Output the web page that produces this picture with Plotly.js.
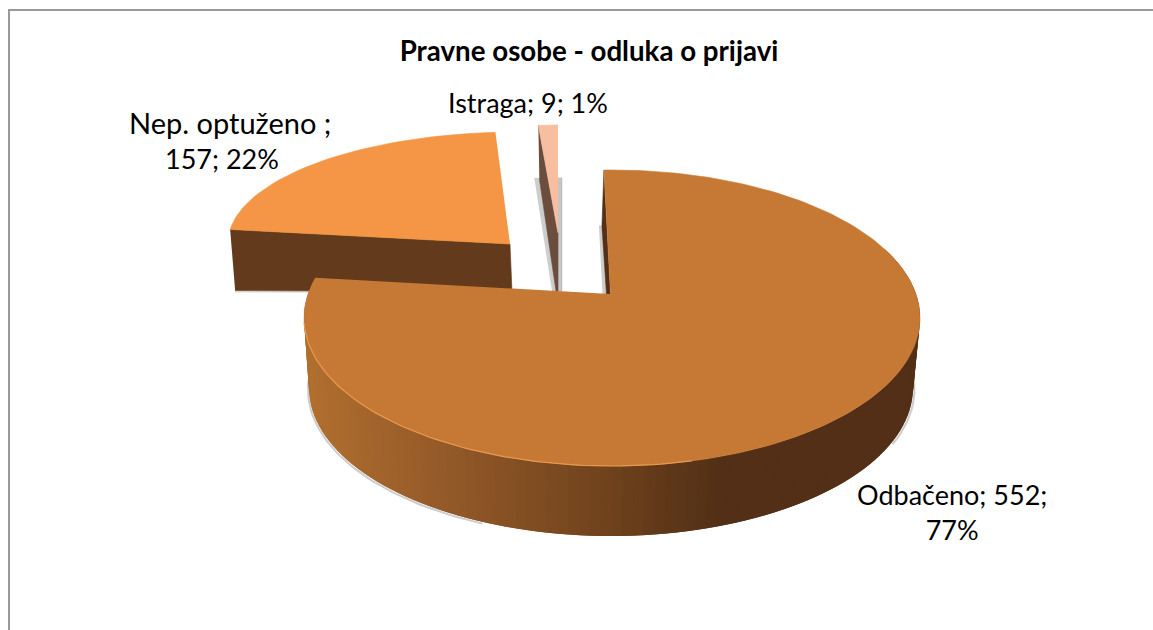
<!DOCTYPE html>
<html>
<head>
<meta charset="utf-8">
<script src="https://cdn.plot.ly/plotly-3.0.1.min.js"></script>
<style>html,body{margin:0;padding:0;background:#fff}#chart{width:1153px;height:630px}</style>
</head>
<body>
<div id="chart"></div>
<script>
const categories = ["Odbačeno", "Nep. optuženo", "Istraga"];
const values = [552, 157, 9];
const dataLabels = ["Odbačeno; 552;<br>77%", "Nep. optuženo ;", "157; 22%", "Istraga; 9; 1%"];
const chartTitle = "Pravne osobe - odluka o prijavi";

const total = values.reduce((a, b) => a + b, 0);
const sweep = values.map(v => v / total * 360);
const rad = d => d * Math.PI / 180;
const FONT = "Lato, Carlito, sans-serif";

// 3-D projection styling (ellipses in the pixel-aligned plot frame)
const mainTop = {cx: 612, cy: 318, rx: 308, ry: 148};
const mainBottom = {cx: 611, cy: 388, rx: 302, ry: 148};
const nepTop = {cx: 517, cy: 243, rx: 289, ry: 111};
const istTop = {cx: 558, cy: 233, rx: 255, ry: 108};
const mainStart = -1.5, mainStretch = 1.038;

const pt = (e, t) => [e.cx + e.rx * Math.sin(rad(t)), e.cy - e.ry * Math.cos(rad(t))];
function arc(e, a, b, n) {
  const out = [];
  for (let i = 0; i <= n; i++) out.push(pt(e, a + (b - a) * i / n));
  return out;
}
function poly(points, fill, extra) {
  return Object.assign({
    type: "scatter", mode: "lines", fill: "toself", fillcolor: fill,
    x: points.map(p => p[0]), y: points.map(p => p[1]),
    line: {color: fill, width: 0.6}, hoverinfo: "skip", showlegend: false
  }, extra || {});
}
function stroke(points, color, width) {
  return {type: "scatter", mode: "lines", x: points.map(p => p[0]), y: points.map(p => p[1]),
    line: {color: color, width: width}, hoverinfo: "skip", showlegend: false};
}
const gradientStops = [[300, [179, 113, 47]], [450, [149, 90, 41]], [620, [110, 66, 28]], [730, [82, 47, 22]], [930, [82, 47, 22]]];
function wallColor(x) {
  for (let i = 1; i < gradientStops.length; i++) {
    const [x0, c0] = gradientStops[i - 1], [x1, c1] = gradientStops[i];
    if (x <= x1) {
      const f = Math.max(0, (x - x0) / (x1 - x0));
      return "rgb(" + c0.map((c, k) => Math.round(c + (c1[k] - c) * f)).join(",") + ")";
    }
  }
  return "rgb(82,47,22)";
}

const traces = [];

// Nep. optuženo: cut wall then top face
const mainEnd = mainStart + sweep[0] * mainStretch;
const nepA = 277, nepB = nepA + sweep[1];
const nepArc = arc(nepTop, nepA, nepB, 40);
const nepApex = [510, 244];
const nepLeft = nepArc[0];
traces.push(stroke([[nepLeft[0] + 5, nepLeft[1] + 62], [nepApex[0] + 2, nepApex[1] + 48]], "rgba(120,120,120,0.3)", 2));
traces.push(poly([nepLeft, nepApex, [nepApex[0] + 2, nepApex[1] + 48], [nepLeft[0] + 5, nepLeft[1] + 61]], "#633A1B"));
traces.push(poly([nepApex].concat(nepArc), "#F49645"));

// Istraga: shadow, wall, top face
const istArc = arc(istTop, -sweep[2] * 0.98, 0, 6);
const istApex = [istTop.cx, istTop.cy];
const istL = istArc[0], istR = istArc[istArc.length - 1];
traces.push(poly([[istL[0] - 4, istL[1] + 53], [istL[0] + 1, istL[1] + 53], [istR[0] - 1, istR[1] + 166], [istR[0] - 6, istR[1] + 166]], "rgba(130,130,130,0.4)"));
traces.push(poly([[istR[0], istR[1] + 53], [istR[0] + 4, istR[1] + 53], [istR[0] + 4, istR[1] + 166], [istR[0], istR[1] + 166]], "rgba(130,130,130,0.45)"));
traces.push(poly([istL, istApex, [istApex[0], istApex[1] + 58], [istApex[0] - 2, istApex[1] + 58], [istL[0] + 1, istL[1] + 53]], "#6A4D3D"));
traces.push(poly([istApex].concat(istArc), "#F7BEA0"));

// Odbačeno: shadows, inner wall, gradient outer wall, top face, rim
const mainApex = [610.5, 294];
const mainStartPt = pt(mainTop, mainStart);
traces.push(poly([[mainStartPt[0] - 5, 226], [mainStartPt[0] - 1, 226], [mainApex[0] - 3, 294], [mainApex[0] - 8, 294]], "rgba(130,130,130,0.4)"));
traces.push(poly([mainStartPt, [mainStartPt[0] - 2, 226], [mainApex[0] - 4, 294], mainApex], "#522F16"));
traces.push(stroke(arc({cx: mainBottom.cx - 1, cy: mainBottom.cy + 1.5, rx: mainBottom.rx, ry: mainBottom.ry}, 205, 290, 60), "rgba(110,110,110,0.35)", 2));
traces.push(stroke(arc({cx: mainBottom.cx + 1.5, cy: mainBottom.cy + 1, rx: mainBottom.rx, ry: mainBottom.ry}, 70, 112, 30), "rgba(110,110,110,0.35)", 2));
const nSeg = 110, wallA = 62, wallB = mainEnd, step = (wallB - wallA) / nSeg;
for (let i = nSeg - 1; i >= 0; i--) {
  const a = wallA + step * i, b = Math.min(wallB, a + step * 2);
  const p0 = pt(mainTop, a), p1 = pt(mainTop, b), q0 = pt(mainBottom, a), q1 = pt(mainBottom, b);
  const m0 = pt(mainTop, a + step / 2), m1 = pt(mainBottom, a + step / 2);
  traces.push(poly([p0, p1, q1, q0], wallColor((m0[0] + m1[0]) / 2), {line: {width: 0, color: "rgba(0,0,0,0)"}}));
}
traces.push(poly([mainApex].concat(arc(mainTop, mainStart, mainEnd, 220)), "#C67935"));
traces.push(stroke(arc(mainTop, 165, 268, 70), "#E8984F", 1.2));

const layout = {
  width: 1153, height: 630,
  margin: {l: 0, r: 0, t: 0, b: 0},
  paper_bgcolor: "#ffffff", plot_bgcolor: "rgba(0,0,0,0)",
  showlegend: false,
  title: {text: "<b>" + chartTitle + "</b>", font: {family: FONT, size: 27.7, color: "#000"},
    x: 589 / 1153, xanchor: "center", y: 1 - 51 / 630, yanchor: "middle"},
  xaxis: {range: [0, 1153], visible: false, fixedrange: true},
  yaxis: {range: [630, 0], visible: false, fixedrange: true},
  shapes: [
    {type: "line", xref: "x", yref: "y", x0: 9, x1: 9, y0: 10, y1: 630, line: {color: "#999999", width: 2}},
    {type: "line", xref: "x", yref: "y", x0: 8, x1: 1153, y0: 10, y1: 10, line: {color: "#999999", width: 2}}
  ],
  annotations: [
    {x: 952, y: 512, text: dataLabels[0], size: 27},
    {x: 229.5, y: 122, text: dataLabels[1], size: 29},
    {x: 222, y: 158, text: dataLabels[2], size: 27},
    {x: 528, y: 102.5, text: dataLabels[3], size: 27}
  ].map(a => ({x: a.x, y: a.y, text: a.text, xref: "x", yref: "y", showarrow: false, align: "center",
    xanchor: "center", yanchor: "middle", font: {family: FONT, size: a.size, color: "#000"}}))
};
Plotly.newPlot("chart", traces, layout, {displayModeBar: false, staticPlot: true});
</script>
</body>
</html>
